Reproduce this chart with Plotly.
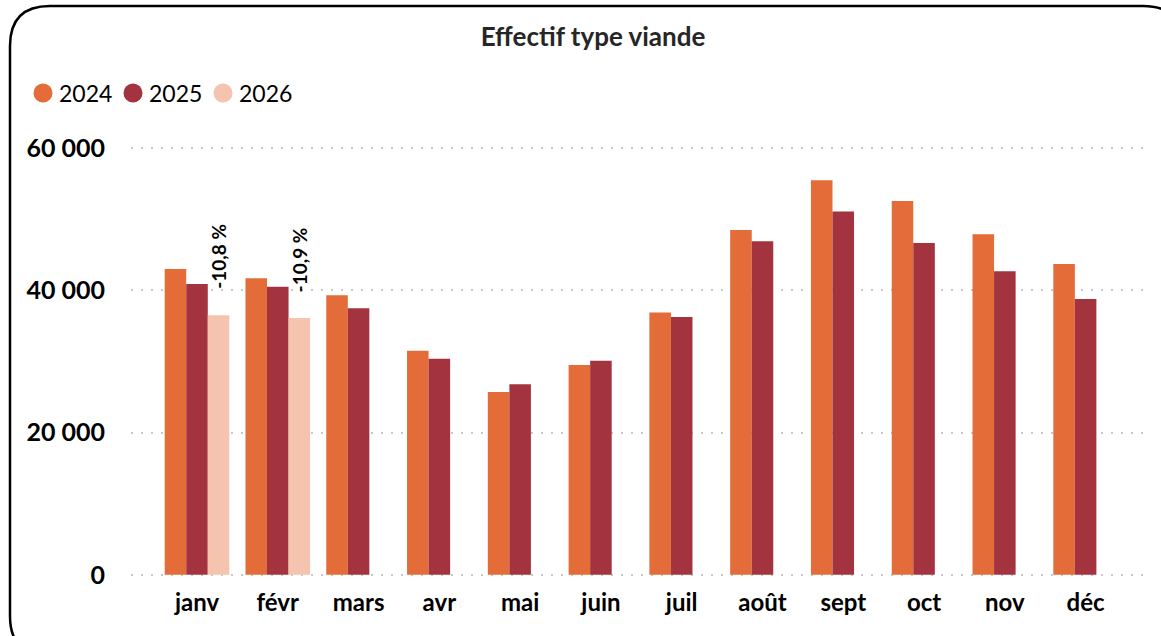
import plotly.graph_objects as go

months = ["janv", "févr", "mars", "avr", "mai", "juin", "juil", "août", "sept", "oct", "nov", "déc"]
y2024 = [43000, 41700, 39300, 31500, 25700, 29500, 36900, 48500, 55500, 52550, 47900, 43700]
y2025 = [40900, 40500, 37500, 30400, 26800, 30100, 36250, 46900, 51100, 46650, 42700, 38800]
y2026 = [36500, 36100, None, None, None, None, None, None, None, None, None, None]
tick_vals = [0, 20000, 40000, 60000]
tick_text = ["0", "20 000", "40 000", "60 000"]

series = [("2024", y2024, "#E46C38"), ("2025", y2025, "#A2333F"), ("2026", y2026, "#F4C4AE")]

FONT = "Lato"
W, H = 1161, 636
ML, MR, MT, MB = 131, 16, 146, 59
PW, PH = W - ML - MR, H - MT - MB

fig = go.Figure()
for name, vals, col in series:
    fig.add_trace(go.Bar(x=months, y=vals, name=name, marker=dict(color=col, line=dict(width=0)),
                         showlegend=False, hoverinfo="x+y+name"))

# variation annotations
for i, v in enumerate(y2026):
    if v is not None and y2025[i]:
        pct = (v / y2025[i] - 1) * 100
        txt = f"{pct:.1f}".replace(".", ",") + " %"
        fig.add_annotation(x=months[i], y=v, text=txt, textangle=-90, showarrow=False,
                           xanchor="center", yanchor="bottom", xshift=22, yshift=24,
                           font=dict(family=FONT, size=19, color="#000000", weight="bold"))


def px2paper(px, py):
    return (px - ML) / PW, (MT + PH - py) / PH


def rounded_path(x0, y0, x1, y1, r):
    pts = [
        ("M", [(x0, y0 + r)]),
        ("Q", [(x0, y0), (x0 + r, y0)]),
        ("L", [(x1 - r, y0)]),
        ("Q", [(x1, y0), (x1, y0 + r)]),
        ("L", [(x1, y1 - r)]),
        ("Q", [(x1, y1), (x1 - r, y1)]),
        ("L", [(x0 + r, y1)]),
        ("Q", [(x0, y1), (x0, y1 - r)]),
    ]
    s = ""
    for cmd, ps in pts:
        s += cmd + " ".join(f"{px2paper(a, b)[0]:.5f},{px2paper(a, b)[1]:.5f}" for a, b in ps) + " "
    return s + "Z"


fig.add_shape(type="path", xref="paper", yref="paper", path=rounded_path(10, 6, 1183, 656, 40),
              line=dict(color="#000000", width=2.5), fillcolor="rgba(0,0,0,0)", layer="above")

# custom legend (round markers)
for k, (name, vals, col) in enumerate(series):
    cx, cy, r = 43 + 90 * k, 93, 9.5
    xa, ya = px2paper(cx - r, cy + r)
    xb, yb = px2paper(cx + r, cy - r)
    fig.add_shape(type="circle", xref="paper", yref="paper", x0=xa, y0=ya, x1=xb, y1=yb,
                  fillcolor=col, line=dict(width=0))
    tx, ty = px2paper(cx + 14, cy)
    fig.add_annotation(xref="paper", yref="paper", x=tx, y=ty, text=name, showarrow=False,
                       xanchor="left", yanchor="middle",
                       font=dict(family=FONT, size=23, color="#000000"))

fig.update_layout(
    width=W, height=H,
    margin=dict(l=ML, r=MR, t=MT, b=MB, pad=0),
    paper_bgcolor="white", plot_bgcolor="white",
    barmode="group", bargap=0.2, bargroupgap=0,
    showlegend=False,
    font=dict(family=FONT, color="#000000"),
    title=dict(text="<b>Effectif type viande</b>", x=593 / W, xref="container", xanchor="center",
               y=1 - 37 / H, yref="container", yanchor="middle",
               font=dict(family=FONT, size=26, color="#262626")),
    xaxis=dict(range=[-0.817, 11.735], showgrid=False, zeroline=False, showline=False,
               ticks="outside", ticklen=4, tickcolor="rgba(0,0,0,0)",
               tickfont=dict(family=FONT, size=24, color="#000000", weight="bold")),
    yaxis=dict(range=[-300, 60300], tickvals=tick_vals, ticktext=tick_text, showgrid=True,
               gridcolor="#C8C8C8", gridwidth=2, griddash="2px,8px", zeroline=False, showline=False,
               ticks="outside", ticklen=20, tickcolor="rgba(0,0,0,0)",
               tickfont=dict(family=FONT, size=25, color="#000000", weight="bold")),
)

fig.write_html("out.html", config={"displayModeBar": False},
               post_script="document.body.style.margin='0';")
